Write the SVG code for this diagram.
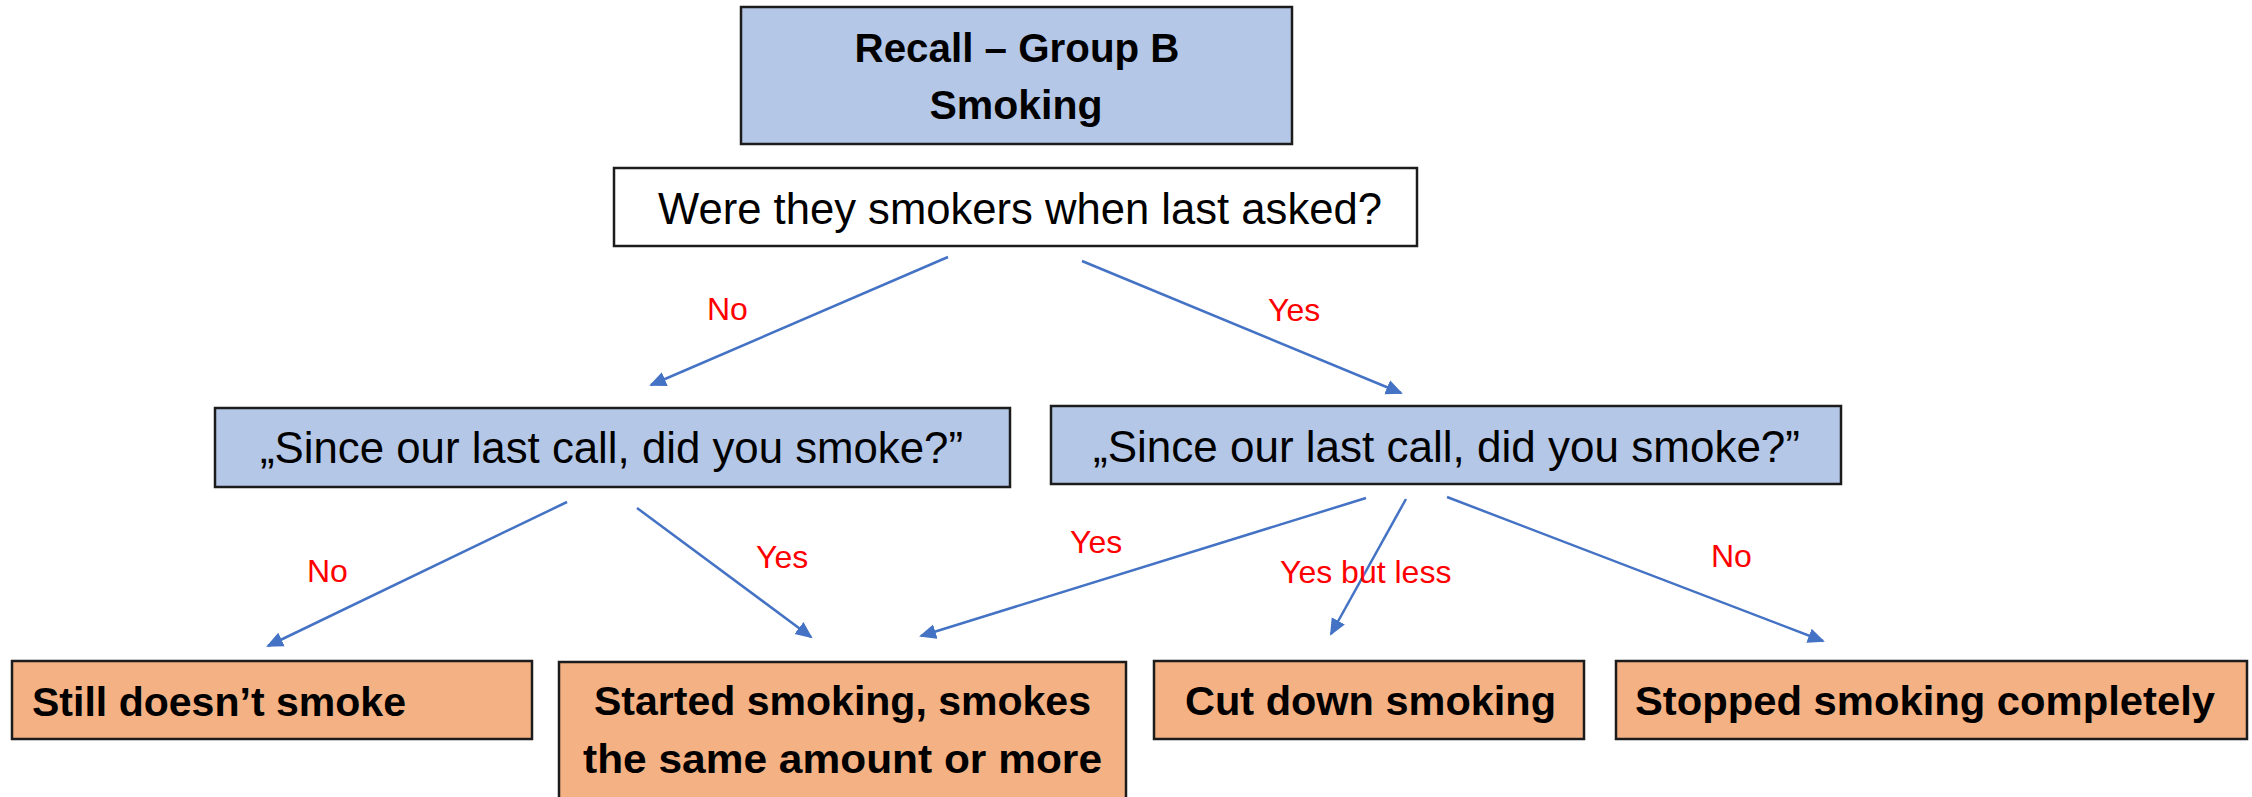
<svg xmlns="http://www.w3.org/2000/svg" width="2252" height="797" viewBox="0 0 2252 797">
<style>
.box{stroke:#1c1c1c;stroke-width:2.5}
.title{fill:#B4C7E7}
.q{fill:#FFFFFF}
.blue{fill:#B4C7E7}
.orange{fill:#F4B183}
.t{font-family:"Liberation Sans",Arial,sans-serif;fill:#000}
.reg{font-size:44px}
.bold{font-size:41px;font-weight:bold}
.lbl{font-family:"Liberation Sans",Arial,sans-serif;font-size:32px;fill:#FF0000}
.conn line{stroke:#4472C4;stroke-width:2.5;fill:none}
</style>
<defs>
<marker id="arr" markerUnits="userSpaceOnUse" markerWidth="18" markerHeight="16" viewBox="0 0 18 16" refX="15" refY="8" orient="auto">
<path d="M0,0.5 L17,8 L0,15.5 z" fill="#4472C4"/>
</marker>
</defs>
<rect width="2252" height="797" fill="#FFFFFF"/>

<g id="title">
<rect class="box title" x="741" y="7" width="551" height="137"/>
<text class="t bold" x="1017" y="62" text-anchor="middle" font-size="40" textLength="325" lengthAdjust="spacingAndGlyphs">Recall – Group B</text>
<text class="t bold" x="1016" y="119" text-anchor="middle" font-size="40">Smoking</text>
</g>

<g id="question">
<rect class="box q" x="614" y="168" width="803" height="78"/>
<text class="t reg" x="1020" y="224" text-anchor="middle" textLength="724" lengthAdjust="spacingAndGlyphs">Were they smokers when last asked?</text>
</g>

<g id="since-left">
<rect class="box blue" x="215" y="408" width="795" height="79"/>
<text class="t reg" x="611.5" y="463" text-anchor="middle" textLength="703" lengthAdjust="spacingAndGlyphs">„Since our last call, did you smoke?”</text>
</g>

<g id="since-right">
<rect class="box blue" x="1051" y="406" width="790" height="78"/>
<text class="t reg" x="1446.5" y="462" text-anchor="middle" textLength="707" lengthAdjust="spacingAndGlyphs">„Since our last call, did you smoke?”</text>
</g>

<g id="still">
<rect class="box orange" x="12" y="661" width="520" height="78"/>
<text class="t bold" x="32" y="716" textLength="374" lengthAdjust="spacingAndGlyphs">Still doesn’t smoke</text>
</g>

<g id="started">
<rect class="box orange" x="559" y="662" width="567" height="150"/>
<text class="t bold" x="842.5" y="715" text-anchor="middle" textLength="497" lengthAdjust="spacingAndGlyphs">Started smoking, smokes</text>
<text class="t bold" x="842.5" y="773" text-anchor="middle" textLength="519" lengthAdjust="spacingAndGlyphs">the same amount or more</text>
</g>

<g id="cut">
<rect class="box orange" x="1154" y="661" width="430" height="78"/>
<text class="t bold" x="1370.5" y="715" text-anchor="middle" textLength="371" lengthAdjust="spacingAndGlyphs">Cut down smoking</text>
</g>

<g id="stopped">
<rect class="box orange" x="1616" y="661" width="631" height="78"/>
<text class="t bold" x="1925" y="715" text-anchor="middle" textLength="580" lengthAdjust="spacingAndGlyphs">Stopped smoking completely</text>
</g>

<g id="connectors" class="conn">
<line x1="948" y1="257" x2="651" y2="385" marker-end="url(#arr)"/>
<line x1="1082" y1="261" x2="1401" y2="393" marker-end="url(#arr)"/>
<line x1="567" y1="502" x2="268" y2="646" marker-end="url(#arr)"/>
<line x1="637" y1="508" x2="811" y2="637" marker-end="url(#arr)"/>
<line x1="1366" y1="498" x2="921" y2="636" marker-end="url(#arr)"/>
<line x1="1406" y1="499" x2="1331" y2="634" marker-end="url(#arr)"/>
<line x1="1447" y1="497" x2="1823" y2="641" marker-end="url(#arr)"/>
</g>

<g id="labels">
<text class="lbl" x="707" y="320">No</text>
<text class="lbl" x="1268" y="321">Yes</text>
<text class="lbl" x="307" y="582">No</text>
<text class="lbl" x="756" y="568">Yes</text>
<text class="lbl" x="1070" y="553">Yes</text>
<text class="lbl" x="1280" y="583">Yes but less</text>
<text class="lbl" x="1711" y="567">No</text>
</g>
</svg>
